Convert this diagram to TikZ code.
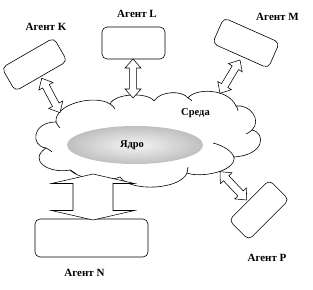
\documentclass[tikz,border=0pt]{standalone}
\usepackage{fontspec}
\setmainfont{Liberation Serif}
\usetikzlibrary{calc}
\tikzset{
  agentbox/.style={draw=black, line width=0.6pt, rounded corners=5pt, fill=white, inner sep=0pt},
  agentlabel/.style={font=\bfseries\fontsize{11}{13}\selectfont, inner sep=0pt},
  innerlabel/.style={font=\bfseries\fontsize{10.5}{12}\selectfont, inner sep=0pt},
  cloudline/.style={draw=black, line width=0.6pt},
  darrow/.style={draw=black, line width=0.55pt, fill=white, line join=miter},
}
\newcommand\hollowarrow[5]{%
  \path let \p1=($(#2)-(#1)$), \n1={atan2(\y1,\x1)}, \n2={veclen(\x1,\y1)} in
    \pgfextra{\xdef\harang{\n1}\xdef\harlen{\n2}};
  \begin{scope}[shift={(#1)}, rotate=\harang]
    \draw[darrow] (0pt,0pt) -- (#5,#4) -- (#5,#3) -- ({\harlen-#5},#3) -- ({\harlen-#5},#4)
      -- ({\harlen+0pt},0pt) -- ({\harlen-#5},-#4) -- ({\harlen-#5},-#3) -- (#5,-#3) -- (#5,-#4) -- cycle;
  \end{scope}}
\begin{document}
\begin{tikzpicture}[x=1pt, y=-1pt]
\fill[white] (0,0) rectangle (313,289);
\useasboundingbox (0,0) rectangle (313,289);

% cloud (environment)
\draw[cloudline, fill=white]
  (56,122) .. controls (54,104) and (95,94) .. (110,104)
  .. controls (115,93) and (148,92) .. (154,101)
  .. controls (160,91) and (182,90) .. (188,98)
  .. controls (195,88) and (228,88) .. (236,106)
  .. controls (250,104) and (262,120) .. (252,130)
  .. controls (266,133) and (265,155) .. (234,157)
  .. controls (236,172) and (200,178) .. (187,173)
  .. controls (180,190) and (130,192) .. (120,177)
  .. controls (108,182) and (80,180) .. (70,170)
  .. controls (48,174) and (28,160) .. (46,148)
  .. controls (30,146) and (32,122) .. (56,122) -- cycle;
% inner curls of the cloud
\draw[cloudline] (213,143) .. controls (225,146) and (232,152) .. (234,157);
\draw[cloudline] (252,130) .. controls (250,132) and (248,133) .. (246,134);
\draw[cloudline] (110,104) .. controls (112,105) and (114,107) .. (115,109);
\draw[cloudline] (188,98) .. controls (190,99) and (191,100) .. (192,101);
\draw[cloudline] (236,106) .. controls (237,107) and (238,109) .. (238,111);
\draw[cloudline] (187,173) .. controls (187,171) and (188,169) .. (188,167);
\draw[cloudline] (46,148) .. controls (48,149) and (50,150) .. (52,152);
\draw[cloudline] (56,122) .. controls (57,124) and (58,126) .. (60,128);
\draw[cloudline] (70,170) .. controls (72,171) and (74,172) .. (76,174);

% core
\shade[inner color=gray!8, outer color=gray!50] (135,145) ellipse [x radius=68, y radius=19];
\node[innerlabel] (core) at (132,145) {Ядро};
\node[innerlabel] (env) at (195.5,113) {Среда};

% agents
\node[agentbox, minimum width=60pt, minimum height=27pt, rotate=30] (kbox) at (34.5,64.5) {};
\node[agentbox, minimum width=63pt, minimum height=32pt] (lbox) at (133.5,43) {};
\node[agentbox, minimum width=61pt, minimum height=28pt, rotate=-24] (mbox) at (246,43) {};
\node[agentbox, minimum width=57pt, minimum height=28pt, rotate=45] (pbox) at (259,210) {};
\node[agentbox, minimum width=113pt, minimum height=38pt] (nbox) at (91.5,238) {};

\node[agentlabel] (klab) at (46,26.5) {Агент K};
\node[agentlabel] (llab) at (137,13.5) {Агент L};
\node[agentlabel] (mlab) at (277.5,17) {Агент M};
\node[agentlabel] (nlab) at (84.5,273) {Агент N};
\node[agentlabel] (plab) at (267,257.5) {Агент P};

% arrow end points
\coordinate (kA) at (41.7,78.3);  \coordinate (kB) at (60,112.7);
\coordinate (lA) at (133,59);     \coordinate (lB) at (133,98);
\coordinate (mA) at (240,60);     \coordinate (mB) at (220,93.3);
\coordinate (pA) at (220,171.7);  \coordinate (pB) at (246.7,200);
\coordinate (nA) at (93,174);     \coordinate (nB) at (93,220);

\hollowarrow{kA}{kB}{3.7pt}{8pt}{9pt}
\hollowarrow{lA}{lB}{3.7pt}{8pt}{9pt}
\hollowarrow{mA}{mB}{3.7pt}{8pt}{9pt}
\hollowarrow{pA}{pB}{3.7pt}{8pt}{9pt}
\hollowarrow{nA}{nB}{20pt}{41.5pt}{9.5pt}
\end{tikzpicture}
\end{document}
